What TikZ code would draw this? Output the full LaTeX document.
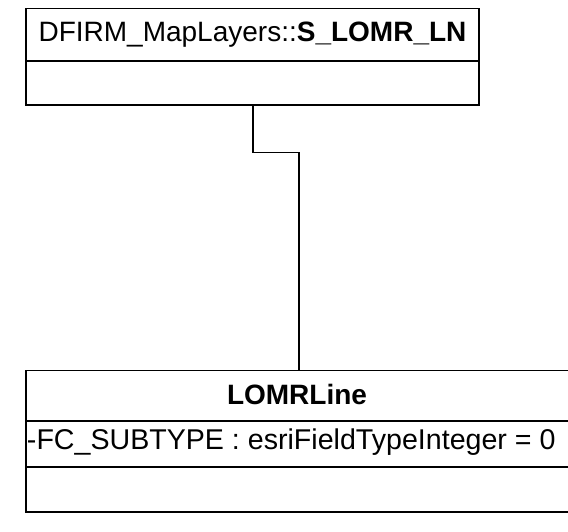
\documentclass[tikz,border=0pt]{standalone}
\usepackage{fontspec}
\setmainfont{Liberation Sans}
\begin{document}
\begin{tikzpicture}[x=1pt,y=-1pt,
  every node/.style={inner sep=0pt, outer sep=0pt},
  umlbox/.style={draw, line width=1.8pt, rectangle, anchor=north west},
  divider/.style={line width=1.8pt},
  conn/.style={line width=1.8pt},
  lbl/.style={font=\fontsize{28}{32}\selectfont, anchor=base}]
\useasboundingbox (0,0) rectangle (568,531);
\clip (0,0) rectangle (568,531);
% top class
\node[umlbox, minimum width=453pt, minimum height=96.5pt] (top) at (26,8.5) {};
\draw[divider] ([yshift=-52.5pt]top.north west) -- ([yshift=-52.5pt]top.north east);
\node[lbl] (toptitle) at (252.5,41.7) {DFIRM\_MapLayers::\textbf{S\_LOMR\_LN}};
% bottom class
\node[umlbox, minimum width=545pt, minimum height=141.5pt] (bot) at (26,370.5) {};
\draw[divider] ([yshift=-50.5pt]bot.north west) -- ([yshift=-50.5pt]bot.north east);
\draw[divider] ([yshift=-96.5pt]bot.north west) -- ([yshift=-96.5pt]bot.north east);
\node[lbl] (botname) at (297,404.3) {\textbf{LOMRLine}};
\node[lbl, font=\fontsize{28.6}{32}\selectfont, anchor=base west] (attr) at (27,449.3) {-FC\_SUBTYPE : esriFieldTypeInteger = 0};
% connector
\draw[conn] ([xshift=227pt]top.south west) -- ++(0,47.5) -| ([xshift=273pt]bot.north west);
\end{tikzpicture}
\end{document}
